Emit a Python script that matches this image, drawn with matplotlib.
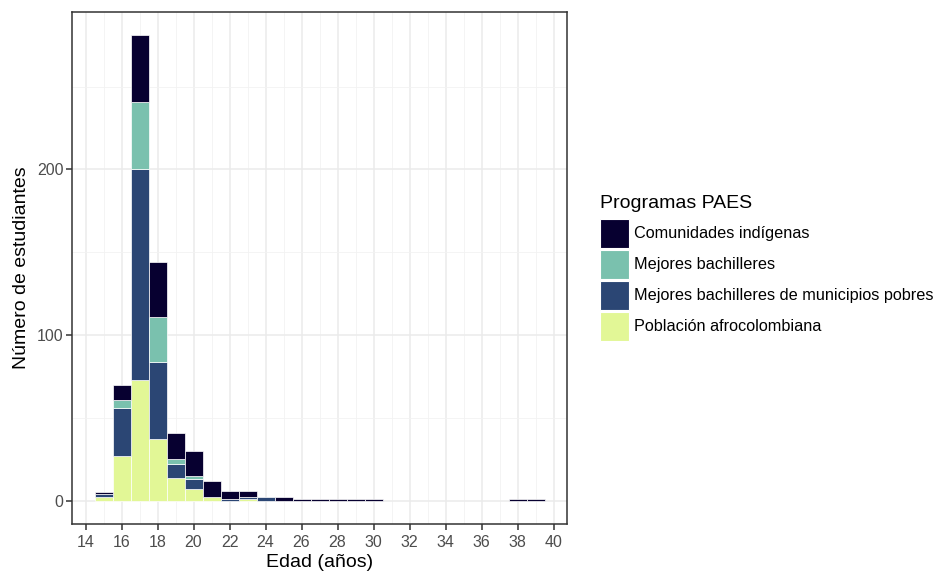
import matplotlib
matplotlib.use("Agg")
import matplotlib.pyplot as plt
from matplotlib.patches import Rectangle
from matplotlib.ticker import MultipleLocator
import numpy as np

plt.rcParams["font.family"] = ["Liberation Sans", "DejaVu Sans"]

# Conteos por edad (bins de 1 año centrados en la edad)
edades = np.arange(15, 40)
indigenas = [1, 9, 40, 33, 16, 15, 10, 5, 4, 0, 2, 1, 1, 1, 1, 1, 0, 0, 0, 0, 0, 0, 0, 1, 1]
mejores = [0, 5, 41, 27, 3, 2, 0, 0, 0, 0, 0, 0, 0, 0, 0, 0, 0, 0, 0, 0, 0, 0, 0, 0, 0]
municipios_pobres = [2, 29, 127, 47, 8, 6, 0, 1, 1, 2, 0, 0, 0, 0, 0, 0, 0, 0, 0, 0, 0, 0, 0, 0, 0]
afro = [2, 27, 73, 37, 14, 7, 2, 0, 1, 0, 0, 0, 0, 0, 0, 0, 0, 0, 0, 0, 0, 0, 0, 0, 0]

programas = [
    "Comunidades indígenas",
    "Mejores bachilleres",
    "Mejores bachilleres de municipios pobres",
    "Población afrocolombiana",
]
colores = ["#070030", "#7AC1AE", "#2B4674", "#E2F796"]

fig = plt.figure(figsize=(9.35, 5.72), dpi=100)
ax = fig.add_axes([72 / 935, 1 - 524 / 572, 495 / 935, 512 / 572])

# apilado: afro abajo, indígenas arriba
series = [afro, municipios_pobres, mejores, indigenas]
series_colores = [colores[3], colores[2], colores[1], colores[0]]
base = np.zeros(len(edades))
for valores, color in zip(series, series_colores):
    valores = np.array(valores, dtype=float)
    m = valores > 0
    ax.bar(edades[m], valores[m], bottom=base[m], width=1, color=color,
           edgecolor="white", linewidth=0.5, zorder=3)
    base += valores

ax.set_xlim(13.25, 40.75)
ax.set_ylim(-14.05, 295.05)
ax.xaxis.set_major_locator(MultipleLocator(2))
ax.xaxis.set_minor_locator(MultipleLocator(1))
ax.yaxis.set_major_locator(MultipleLocator(100))
ax.yaxis.set_minor_locator(MultipleLocator(50))
ax.grid(which="major", color="#EBEBEB", linewidth=1.1, zorder=0)
ax.grid(which="minor", color="#F2F2F2", linewidth=0.6, zorder=0)
ax.set_axisbelow(True)

for s in ax.spines.values():
    s.set_color("#333333")
    s.set_linewidth(1.1)
ax.tick_params(which="major", length=4, width=1.1, color="#333333",
               labelcolor="#4D4D4D", labelsize=11.5, pad=2)
ax.tick_params(axis="x", which="major", pad=4)
ax.tick_params(which="minor", length=0)

ax.set_xlabel("Edad (años)", fontsize=14, labelpad=3)
ax.set_ylabel("Número de estudiantes", fontsize=14, labelpad=5)

# leyenda
fig.text(600 / 935, 1 - 204 / 572, "Programas PAES", fontsize=14,
         va="center", ha="left")
for i, (nombre, color) in enumerate(zip(programas, colores)):
    y0 = 219 + i * 31
    fig.add_artist(Rectangle((600 / 935, 1 - (y0 + 29) / 572), 29 / 935, 29 / 572,
                             transform=fig.transFigure, facecolor=color,
                             edgecolor="white", linewidth=0.8))
    fig.text(634 / 935, 1 - (y0 + 14.5) / 572, nombre, fontsize=11.7,
             va="center", ha="left")

plt.savefig("out.png", dpi=100)
plt.close()
